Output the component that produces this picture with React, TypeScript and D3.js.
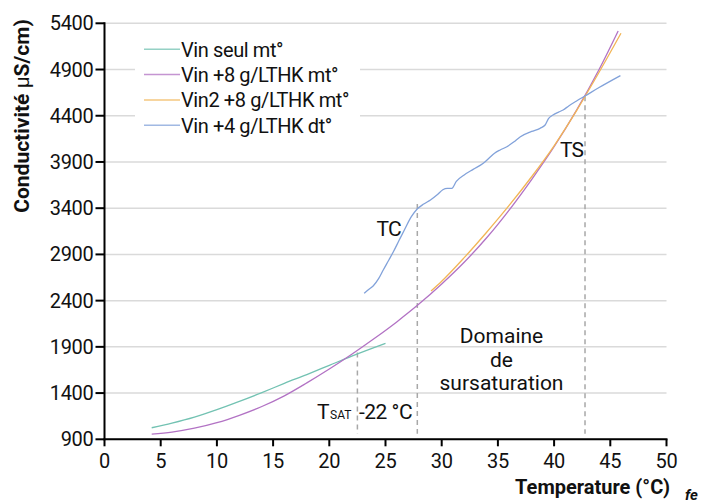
import React from "react";
import * as d3 from "d3";

const xTicks = [0, 5, 10, 15, 20, 25, 30, 35, 40, 45, 50];
const yTicks = [900, 1400, 1900, 2400, 2900, 3400, 3900, 4400, 4900, 5400];

const seriesNames = ["Vin seul mt°", "Vin +8 g/LTHK mt°", "Vin2 +8 g/LTHK mt°", "Vin +4 g/LTHK dt°"];
const seriesColors = ["#72c2b2", "#b272c4", "#f2b555", "#82a2da"];

const tealT = [4.2, 6, 8, 10, 12, 14, 16, 18, 20, 22, 25];
const tealV = [1025, 1075, 1140, 1220, 1310, 1405, 1505, 1600, 1700, 1800, 1938];

const purpleT = [4.2, 6, 8, 10, 12, 14, 16, 18, 20, 22, 24, 26, 28, 30, 32, 34, 36, 38, 40, 42, 44, 45.7];
const purpleV = [955, 978, 1020, 1080, 1160, 1255, 1370, 1510, 1660, 1820, 1990, 2170, 2365, 2580, 2815, 3080, 3380, 3710, 4065, 4460, 4900, 5317];

const orangeT = [29.05, 30, 32, 34, 36, 38, 40, 42, 44, 45.95];
const orangeV = [2504, 2610, 2865, 3140, 3430, 3740, 4075, 4455, 4870, 5292];

const blueT = [23.1, 23.5, 23.9, 24.4, 24.8, 25.3, 25.7, 26.2, 26.7, 27.3, 27.8, 28.4, 29.0, 29.6, 30.1, 30.5, 30.9, 31.3, 32.0, 32.8, 33.7, 34.2, 34.7, 35.2, 35.8, 36.4, 37.0, 38.0, 38.75, 39.2, 39.5, 39.9, 40.4, 40.8, 41.3, 42.0, 42.75, 44.0, 45.9];
const blueV = [2479, 2520, 2558, 2640, 2731, 2840, 2929, 3050, 3170, 3308, 3388, 3445, 3489, 3545, 3600, 3615, 3615, 3690, 3760, 3820, 3886, 3940, 3994, 4030, 4065, 4115, 4173, 4230, 4264, 4300, 4370, 4408, 4440, 4462, 4506, 4560, 4614, 4705, 4834];

const dashT = [22.5, 27.83, 42.75];
const dashTop = [1840, 3445, 4610];
const dashBottom = 960;

export default function App() {
  const x = d3.scaleLinear().domain([0, 50]).range([104.5, 666.5]);
  const y = d3.scaleLinear().domain([900, 5400]).range([439.3, 23.3]);
  const line = d3
    .line<[number, number]>()
    .x((d) => x(d[0]))
    .y((d) => y(d[1]))
    .curve(d3.curveMonotoneX);
  const series = [
    [tealT, tealV],
    [purpleT, purpleV],
    [orangeT, orangeV],
    [blueT, blueV],
  ].map(([t, v]) => t.map((tt, i) => [tt, v[i]] as [number, number]));

  const font = "Roboto, 'Noto Sans', sans-serif";
  const fs = 20;

  return (
    <svg
      width={702}
      height={503}
      style={{ position: "absolute", left: 0, top: 0, display: "block", background: "#fff" }}
      fontFamily={font}
    >
      <rect x={0} y={0} width={702} height={503} fill="#fff" />
      {yTicks.map((t) => (
        <line key={"g" + t} x1={x(0)} x2={x(50)} y1={y(t)} y2={y(t)} stroke="#dadada" strokeWidth={1.5} />
      ))}
      <rect x={135} y={33} width={225} height={108} fill="#fff" />
      {dashT.map((t, i) => (
        <line
          key={"d" + i}
          x1={x(t)}
          x2={x(t)}
          y1={y(dashTop[i])}
          y2={y(dashBottom)}
          stroke="#a8a8a8"
          strokeWidth={1.5}
          strokeDasharray="5,4"
        />
      ))}
      {series.map((s, i) => (
        <path key={"s" + i} d={line(s) || ""} fill="none" stroke={seriesColors[i]} strokeWidth={1.3} />
      ))}
      <line x1={x(0)} x2={x(0)} y1={y(5400) - 1} y2={y(900) + 1} stroke="#000" strokeWidth={2} />
      <line x1={x(0) - 1} x2={x(50) + 1} y1={y(900)} y2={y(900)} stroke="#000" strokeWidth={2} />
      {yTicks.map((t) => (
        <g key={"yt" + t}>
          <line x1={x(0) - 9} x2={x(0)} y1={y(t)} y2={y(t)} stroke="#000" strokeWidth={2} />
          <text x={x(0) - 11} y={y(t) + 7} textAnchor="end" fontSize={fs} letterSpacing={-0.3} fill="#111">
            {t}
          </text>
        </g>
      ))}
      {xTicks.map((t) => (
        <g key={"xt" + t}>
          <line x1={x(t)} x2={x(t)} y1={y(900)} y2={y(900) + 7} stroke="#000" strokeWidth={2} />
          <text x={x(t)} y={468.3} textAnchor="middle" fontSize={fs} letterSpacing={-0.3} fill="#111">
            {t}
          </text>
        </g>
      ))}
      <text
        transform={`translate(29,116) rotate(-90)`}
        textAnchor="middle"
        fontSize={21}
        fontWeight="bold"
        fill="#111"
      >
        Conductivité <tspan fontWeight="normal">μ</tspan>S/cm)
      </text>
      <text x={670} y={494} textAnchor="end" fontSize={20} fontWeight="bold" fill="#111">
        Temperature (°C)
      </text>
      <text x={685} y={500} fontSize={15} fontWeight="bold" fontStyle="italic" fill="#111">
        fe
      </text>
      {seriesNames.map((n, i) => (
        <g key={"l" + i}>
          <line x1={144} x2={180} y1={49.3 + i * 25.3} y2={49.3 + i * 25.3} stroke={seriesColors[i]} strokeWidth={1.5} opacity={0.75} />
          <text x={181} y={56.7 + i * 25.3} fontSize={fs} letterSpacing={-0.4} fill="#111">
            {n}
          </text>
        </g>
      ))}
      <text x={376.5} y={236} fontSize={21} letterSpacing={-0.8} fill="#111">TC</text>
      <text x={560} y={157.3} fontSize={21} letterSpacing={-0.8} fill="#111">TS</text>
      <text x={501.5} y={342.7} textAnchor="middle" fontSize={21} fill="#111">Domaine</text>
      <text x={501.5} y={366.7} textAnchor="middle" fontSize={21} fill="#111">de</text>
      <text x={501.5} y={390} textAnchor="middle" fontSize={21} fill="#111">sursaturation</text>
      <text x={317} y={418.5} fontSize={21} fill="#111">T</text>
      <text x={330} y={418.5} fontSize={12} fill="#111">SAT</text>
      <text x={359} y={418.5} fontSize={21} letterSpacing={-0.5} fill="#111">-22 °C</text>
    </svg>
  );
}
